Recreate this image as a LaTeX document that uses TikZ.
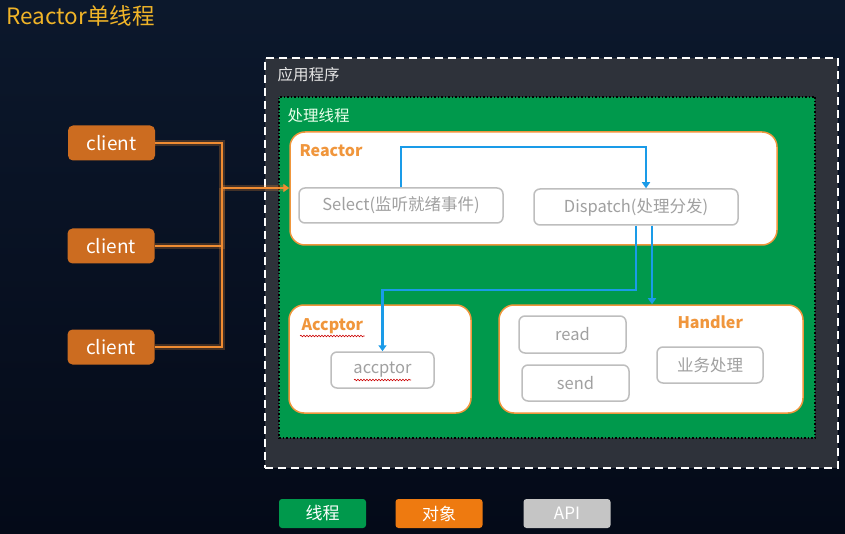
\documentclass[tikz,border=0pt]{standalone}
\usepackage{fontspec}
\setmainfont{Noto Sans CJK SC}
\usetikzlibrary{arrows.meta,decorations.pathmorphing}

\definecolor{bgtop}{RGB}{12,24,44}
\definecolor{bgbot}{RGB}{4,10,24}
\definecolor{appgray}{RGB}{46,50,58}
\definecolor{thgreen}{RGB}{0,153,76}
\definecolor{objorange}{RGB}{240,150,60}
\definecolor{clorange}{RGB}{204,108,32}
\definecolor{lnorange}{RGB}{240,140,50}
\definecolor{apigray}{RGB}{190,190,190}
\definecolor{txtgray}{RGB}{160,160,160}
\definecolor{arrblue}{RGB}{26,155,232}
\definecolor{titleor}{RGB}{240,180,40}

\begin{document}
\begin{tikzpicture}[x=1pt,y=-1pt,
  objbox/.style={draw=objorange, line width=1.5pt, fill=white, rounded corners=15pt},
  apibox/.style={draw=apigray, line width=1.5pt, fill=white, rounded corners=6pt,
    text=txtgray, font=\fontsize{16.5}{18}\selectfont, inner sep=0pt},
  clientbox/.style={fill=clorange, rounded corners=5pt, text=white,
    minimum width=87pt, minimum height=35pt, font=\fontsize{19}{20}\selectfont},
  legendbox/.style={rounded corners=3pt, text=white, minimum width=87pt,
    minimum height=29pt, font=\fontsize{17}{18}\selectfont},
  boxlabel/.style={anchor=west, text=objorange, font=\fontsize{16}{18}\selectfont\bfseries},
  arealabel/.style={anchor=west, font=\fontsize{15.5}{17}\selectfont},
  blueline/.style={draw=arrblue, line width=2.2pt},
  orline/.style={draw=lnorange, line width=2pt,
    preaction={draw=lnorange, line width=6pt, opacity=0.25}},
  spell/.style={draw=red!80!black, line width=0.6pt,
    decorate, decoration={snake, amplitude=0.8pt, segment length=3pt}}]

\useasboundingbox (0,0) rectangle (845,534);
\shade[top color=bgtop, bottom color=bgbot] (0,0) rectangle (845,534);

\node[anchor=west, text=titleor, font=\fontsize{22.5}{24}\selectfont] (title) at (3,16) {Reactor单线程};

\node[draw=white, fill=appgray, line width=2pt, dash pattern=on 8pt off 5pt,
  minimum width=573pt, minimum height=410pt] (app) at (551.5,263) {};
\node[arealabel, text=white!90!black] (applbl) at (274,75) {应用程序};

\node[draw=black, fill=thgreen, line width=1.5pt, dotted,
  minimum width=536pt, minimum height=341pt] (thread) at (547,267.5) {};
\node[arealabel, text=white!92!green] (thlbl) at (284,116) {处理线程};

\node[objbox, minimum width=487pt, minimum height=113pt] (reactor) at (533.5,188.5) {};
\node[boxlabel] (reactorlbl) at (296,151) {Reactor};
\node[apibox, minimum width=204pt, minimum height=35pt] (select) at (401,205.5) {Select(监听就绪事件)};
\node[apibox, minimum width=204pt, minimum height=36pt] (dispatch) at (636,207) {Dispatch(处理分发)};

\node[objbox, minimum width=182pt, minimum height=108pt] (acceptor) at (380,359) {};
\node[boxlabel] (acceptorlbl) at (298,326) {Accptor};
\node[apibox, minimum width=103pt, minimum height=36pt] (accptor) at (382.5,370) {accptor};

\node[objbox, minimum width=304pt, minimum height=108pt] (handler) at (651,359) {};
\node[boxlabel] (handlerlbl) at (674,322) {Handler};
\node[apibox, minimum width=107pt, minimum height=37pt] (read) at (572.5,334.5) {read};
\node[apibox, minimum width=107pt, minimum height=36pt] (send) at (575.5,383) {send};
\node[apibox, minimum width=106pt, minimum height=36pt] (biz) at (710,365) {业务处理};

\draw[spell] ([xshift=2pt,yshift=-10pt]acceptorlbl.west) -- ([xshift=-2pt,yshift=-10pt]acceptorlbl.east);
\draw[spell] (354,380) -- (411,380);

\node[clientbox] (c1) at (111.5,143) {client};
\node[clientbox] (c2) at (111,246) {client};
\node[clientbox] (c3) at (111,347) {client};

\coordinate (joint) at (222,188);
\draw[orline] (c1.east) -| (joint);
\draw[orline] (c2.east) -| (joint);
\draw[orline] (c3.east) -| (joint);
\draw[orline, -{Triangle[width=8pt,length=6pt]}] (joint) -- (joint -| reactor.west);

\coordinate (selout) at (select.north);
\coordinate (dspin) at ([xshift=10pt]dispatch.north);
\coordinate (dspout1) at ([xshift=0pt]dispatch.south);
\coordinate (dspout2) at ([xshift=16pt]dispatch.south);
\draw[blueline, -{Triangle[width=8pt,length=6pt]}] (selout) -- ++(0,-40) -| (dspin);
\draw[blueline, -{Triangle[width=8pt,length=6pt]}] (dspout1) -- ++(0,64) -| (accptor.north);
\draw[blueline, -{Triangle[width=8pt,length=6pt]}] (dspout2) -- (dspout2 |- handler.north);

\node[legendbox, fill=thgreen] (lgthread) at (322.5,513.5) {线程};
\node[legendbox, fill={rgb,255:red,238;green,122;blue,16}] (lgobj) at (439,513.5) {对象};
\node[legendbox, fill=apigray!90!white] (lgapi) at (567,513.5) {API};

\end{tikzpicture}
\end{document}
